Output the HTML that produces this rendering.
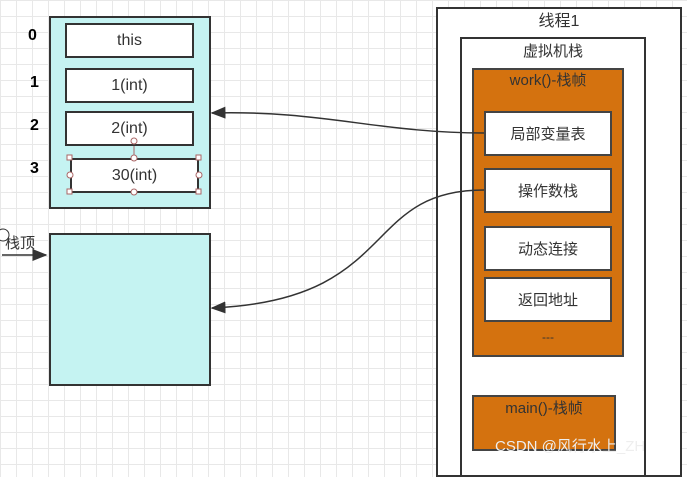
<!DOCTYPE html>
<html><head><meta charset="utf-8"><style>
body{margin:0;width:687px;height:465px;overflow:hidden;background:#fff;
background-image:linear-gradient(#e8e8e8 1px,transparent 1px),linear-gradient(90deg,#e8e8e8 1px,transparent 1px);background-size:16px 16px;
font-family:"Liberation Sans","Noto Sans CJK SC",sans-serif;}
.a{position:absolute;box-sizing:border-box;}
.c{display:flex;align-items:center;justify-content:center;}
</style></head><body>
<div class="a" style="left:49px;top:16px;width:162px;height:193px;background:#c5f3f2;border:2px solid #333"></div>
<div class="a c" style="left:65px;top:23px;width:129px;height:35px;background:#fff;border:2px solid #333;font-size:16px;color:#333">this</div>
<div class="a c" style="left:65px;top:68px;width:129px;height:35px;background:#fff;border:2px solid #333;font-size:16px;color:#333">1(int)</div>
<div class="a c" style="left:65px;top:111px;width:129px;height:35px;background:#fff;border:2px solid #333;font-size:16px;color:#333">2(int)</div>
<div class="a c" style="left:70px;top:158px;width:129px;height:35px;background:#fff;border:2px solid #333;font-size:16px;color:#333">30(int)</div>
<div class="a" style="left:28px;top:27px;font-weight:bold;font-size:16px">0</div>
<div class="a" style="left:30px;top:74px;font-weight:bold;font-size:16px">1</div>
<div class="a" style="left:30px;top:117px;font-weight:bold;font-size:16px">2</div>
<div class="a" style="left:30px;top:160px;font-weight:bold;font-size:16px">3</div>
<div class="a" style="left:49px;top:233px;width:162px;height:153px;background:#c5f3f2;border:2px solid #333"></div>
<div class="a" style="left:5px;top:232px;font-size:15px;color:#333">栈顶</div>
<div class="a" style="left:436px;top:7px;width:246px;height:470px;border:2px solid #333;background:#fff"></div>
<div class="a" style="left:436px;top:7px;width:246px;text-align:center;font-size:16px;color:#333">线程1</div>
<div class="a" style="left:460px;top:37px;width:186px;height:440px;border:2px solid #333;background:#fff"></div>
<div class="a" style="left:460px;top:40px;width:186px;text-align:center;font-size:15px;color:#333">虚拟机栈</div>
<div class="a" style="left:472px;top:68px;width:152px;height:289px;border:2px solid #444;background:#d4720f"></div>
<div class="a" style="left:472px;top:69px;width:152px;text-align:center;font-size:15px;color:#333">work()-栈帧</div>
<div class="a c" style="left:484px;top:111px;width:128px;height:45px;border:2px solid #444;background:#fff;font-size:15px;color:#333">局部变量表</div>
<div class="a c" style="left:484px;top:168px;width:128px;height:45px;border:2px solid #444;background:#fff;font-size:15px;color:#333">操作数栈</div>
<div class="a c" style="left:484px;top:226px;width:128px;height:45px;border:2px solid #444;background:#fff;font-size:15px;color:#333">动态连接</div>
<div class="a c" style="left:484px;top:277px;width:128px;height:45px;border:2px solid #444;background:#fff;font-size:15px;color:#333">返回地址</div>
<div class="a" style="left:472px;top:330px;width:152px;text-align:center;font-size:12px;color:#333">---</div>
<div class="a" style="left:472px;top:395px;width:144px;height:56px;border:2px solid #444;background:#d4720f"></div>
<div class="a" style="left:472px;top:397px;width:144px;text-align:center;font-size:15px;color:#333">main()-栈帧</div>
<div class="a" style="left:495px;top:435px;font-size:15px;color:#eee">CSDN @风行水上_ZH</div>
<svg class="a" style="left:0;top:0" width="687" height="465">
<defs><marker id="m" markerWidth="10" markerHeight="8" refX="9" refY="4" orient="auto"><path d="M0,0L10,4L0,8z" fill="#333"/></marker></defs>
<path d="M484,133 C380,133 320,110 212,113" stroke="#333" stroke-width="1.5" fill="none" marker-end="url(#m)"/>
<path d="M484,190 C360,190 400,300 212,308" stroke="#333" stroke-width="1.5" fill="none" marker-end="url(#m)"/>
<path d="M2,255 L46,255" stroke="#333" stroke-width="1.5" fill="none" marker-end="url(#m)"/>
<circle cx="3" cy="235" r="6" fill="#fff" stroke="#333"/>
<line x1="134" y1="146" x2="134" y2="158" stroke="#a66" />
<g fill="#fff" stroke="#a66"><circle cx="134" cy="141" r="3"/><circle cx="134" cy="158" r="3"/><circle cx="134" cy="192" r="3"/><circle cx="70" cy="175" r="3"/><circle cx="199" cy="175" r="3"/>
<rect x="67" y="155" width="5" height="5"/><rect x="196" y="155" width="5" height="5"/><rect x="67" y="189" width="5" height="5"/><rect x="196" y="189" width="5" height="5"/></g>
</svg>
</body></html>
